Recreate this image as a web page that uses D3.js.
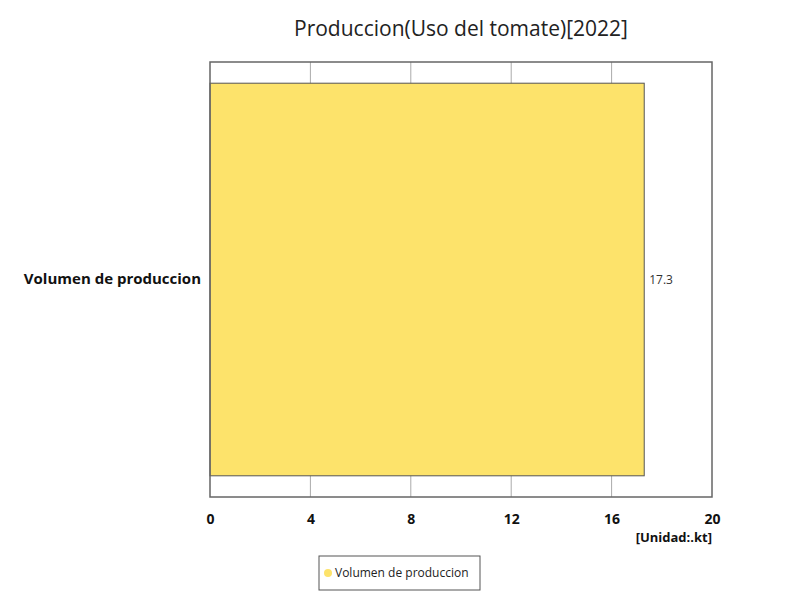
<!DOCTYPE html>
<html>
<head>
<meta charset="utf-8">
<script src="https://cdn.jsdelivr.net/npm/d3@7"></script>
<style>
  body { margin: 0; background: #fff; }
  text { font-family: "Open Sans", "Noto Sans", sans-serif; }
</style>
</head>
<body>
<script>
// data
const categories = ['Volumen de produccion'];
const values = [17.3];
const xTicks = [0, 4, 8, 12, 16, 20];
const seriesName = 'Volumen de produccion';

const W = 800, H = 600;
const margin = {top: 62, right: 88, bottom: 103, left: 210};
const iw = W - margin.left - margin.right;
const ih = H - margin.top - margin.bottom;

const svg = d3.select('body').append('svg')
    .attr('width', W)
    .attr('height', H);

svg.append('text')
    .attr('x', 461)
    .attr('y', 36)
    .attr('text-anchor', 'middle')
    .style('font-size', '21px')
    .style('fill', '#222')
    .text('Produccion(Uso del tomate)[2022]');

const g = svg.append('g')
    .attr('transform', `translate(${margin.left},${margin.top})`);

const x = d3.scaleLinear().domain([0, 20]).range([0, iw]);
const y = d3.scaleBand().domain(categories).range([0, ih]).paddingInner(0).paddingOuter(0.054);

// grid lines
g.selectAll('line.grid')
    .data(xTicks.slice(1, -1))
    .enter()
  .append('line')
    .attr('class', 'grid')
    .attr('x1', d => x(d)).attr('x2', d => x(d))
    .attr('y1', 0).attr('y2', ih)
    .attr('stroke', '#aaa')
    .attr('stroke-width', 1);

// bars
g.selectAll('rect.bar')
    .data(values)
    .enter()
  .append('rect')
    .attr('class', 'bar')
    .attr('x', x(0))
    .attr('y', (d, i) => y(categories[i]))
    .attr('width', d => x(d))
    .attr('height', y.bandwidth())
    .attr('fill', '#fde36b')
    .attr('stroke', '#555')
    .attr('stroke-width', 1);

// value labels
g.selectAll('text.val')
    .data(values)
    .enter()
  .append('text')
    .attr('x', d => x(d) + 5)
    .attr('y', (d, i) => y(categories[i]) + y.bandwidth() / 2)
    .attr('dy', '0.35em')
    .style('font-size', '12px')
    .style('fill', '#333')
    .text(d => d);

// frame
g.append('rect')
    .attr('width', iw)
    .attr('height', ih)
    .attr('fill', 'none')
    .attr('stroke', '#666')
    .attr('stroke-width', 1.5);

// x axis
const xAxis = g.append('g')
    .attr('transform', `translate(0,${ih})`)
    .call(d3.axisBottom(x).tickValues(xTicks).tickSize(0).tickPadding(17));
xAxis.select('.domain').remove();
xAxis.selectAll('text')
    .style('font-size', '14px')
    .style('font-weight', 'bold')
    .style('fill', '#111')
    .style('font-family', '"Open Sans", sans-serif');

// y axis
const yAxis = g.append('g')
    .call(d3.axisLeft(y).tickSize(0).tickPadding(9));
yAxis.select('.domain').remove();
yAxis.selectAll('text')
    .style('font-size', '15px')
    .style('font-weight', 'bold')
    .style('fill', '#111')
    .style('font-family', '"Open Sans", sans-serif');

// unit label
svg.append('text')
    .attr('x', margin.left + iw)
    .attr('y', 542)
    .attr('text-anchor', 'end')
    .style('font-size', '13px')
    .style('font-weight', 'bold')
    .style('fill', '#111')
    .text('[Unidad:.kt]');

// legend
const lg = svg.append('g').attr('transform', 'translate(319,556)');
lg.append('rect')
    .attr('width', 161)
    .attr('height', 34)
    .attr('fill', '#fff')
    .attr('stroke', '#555')
    .attr('stroke-width', 1);
lg.append('circle')
    .attr('cx', 9)
    .attr('cy', 17)
    .attr('r', 4)
    .attr('fill', '#fde36b');
lg.append('text')
    .attr('x', 16)
    .attr('y', 17)
    .attr('dy', '0.35em')
    .style('font-size', '12px')
    .style('fill', '#222')
    .text(seriesName);
</script>
</body>
</html>
